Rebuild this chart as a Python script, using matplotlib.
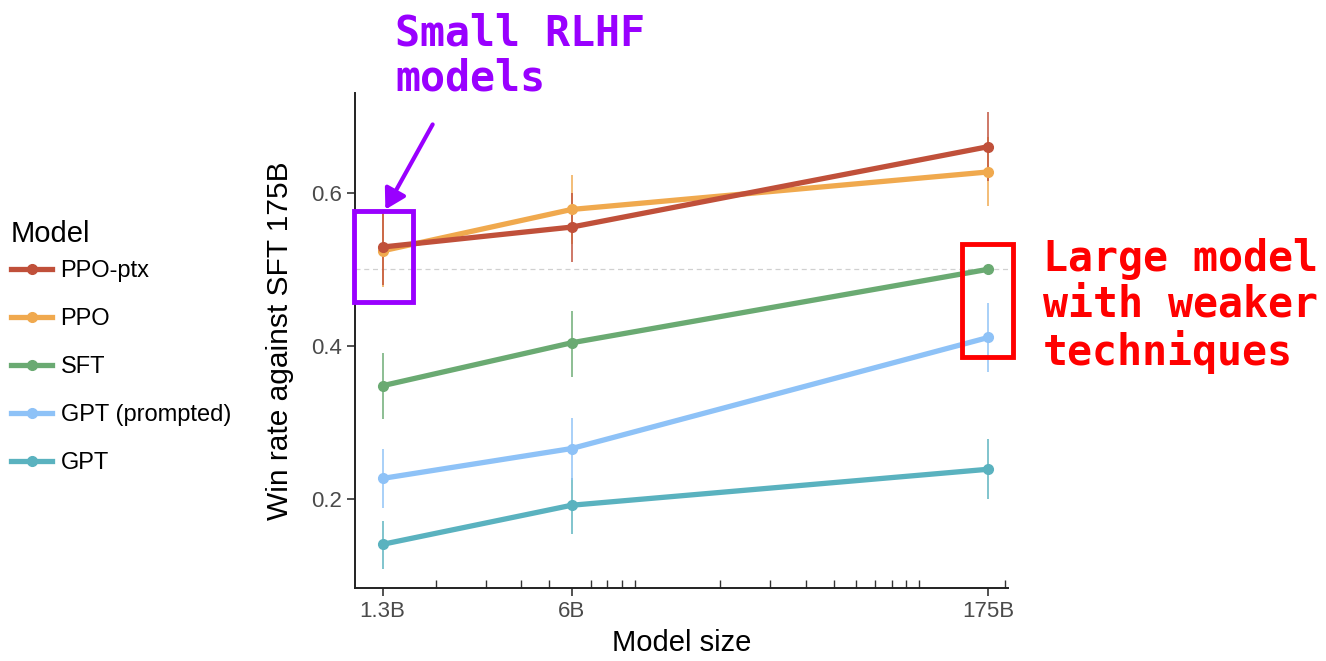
import matplotlib.pyplot as plt
from matplotlib.patches import Rectangle, FancyArrowPatch
import numpy as np

plt.rcParams['font.family'] = ['Liberation Sans', 'DejaVu Sans']

# data
sizes = [1.3, 6, 175]
size_labels = ["1.3B", "6B", "175B"]
models = ["PPO-ptx", "PPO", "SFT", "GPT (prompted)", "GPT"]
colors = ["#c0503a", "#f0a94e", "#6aaa72", "#8ec2f7", "#5ab2bf"]

ppo_ptx = [0.529, 0.555, 0.660]
ppo_ptx_lo = [0.480, 0.510, 0.615]
ppo_ptx_hi = [0.575, 0.600, 0.705]

ppo = [0.524, 0.578, 0.627]
ppo_lo = [0.477, 0.533, 0.583]
ppo_hi = [0.572, 0.623, 0.672]

sft = [0.348, 0.404, 0.500]
sft_lo = [0.305, 0.360, 0.500]
sft_hi = [0.391, 0.446, 0.500]

gpt_prompted = [0.227, 0.266, 0.411]
gpt_prompted_lo = [0.188, 0.225, 0.366]
gpt_prompted_hi = [0.266, 0.306, 0.456]

gpt = [0.141, 0.192, 0.239]
gpt_lo = [0.109, 0.155, 0.200]
gpt_hi = [0.172, 0.228, 0.278]

series = [(ppo_ptx, ppo_ptx_lo, ppo_ptx_hi), (ppo, ppo_lo, ppo_hi),
          (sft, sft_lo, sft_hi), (gpt_prompted, gpt_prompted_lo, gpt_prompted_hi),
          (gpt, gpt_lo, gpt_hi)]

W, H = 1326, 661
fig = plt.figure(figsize=(W / 100, H / 100), dpi=100)
ax = fig.add_axes([355 / W, 1 - 588 / H, (1008 - 355) / W, (588 - 93) / H])

ax.axhline(0.5, color="#d0d0d0", ls=(0, (4, 3)), lw=0.9, zorder=1)

# draw in reverse so PPO-ptx sits on top like the original
handles = []
for name, col, (v, lo, hi) in reversed(list(zip(models, colors, series))):
    v = np.array(v); lo = np.array(lo); hi = np.array(hi)
    ax.vlines(sizes, lo, hi, color=col, lw=1.2, alpha=0.9, zorder=2)
    h, = ax.plot(sizes, v, color=col, lw=3.8, marker="o", ms=7, label=name, zorder=3)
    handles.append(h)
handles = handles[::-1]

ax.set_xscale("log")
ax.set_xlim(1.04, 205)
ax.set_ylim(0.084, 0.73)
ax.set_xticks(sizes)
ax.set_xticklabels(size_labels)
minor = [2, 3, 4, 5, 6, 7, 8, 9, 10, 20, 30, 40, 50, 60, 70, 80, 90, 100, 200]
ax.set_xticks(minor, minor=True)
ax.xaxis.set_minor_formatter(plt.NullFormatter())
ax.set_yticks([0.2, 0.4, 0.6])
ax.set_yticklabels(["0.2", "0.4", "0.6"])
ax.tick_params(axis="both", which="major", direction="out", length=6, width=1.2,
               labelsize=16, labelcolor="#4a4a4a", color="#333333")
ax.tick_params(axis="x", which="minor", direction="in", length=6, width=1.0, color="#333333")
for s in ["top", "right"]:
    ax.spines[s].set_visible(False)
for s in ["left", "bottom"]:
    ax.spines[s].set_linewidth(1.4)
    ax.spines[s].set_color("#222222")

ax.set_xlabel("Model size", fontsize=21, labelpad=5)
ax.set_ylabel("Win rate against SFT 175B", fontsize=21.5)
ax.yaxis.set_label_coords(-0.093, 0.5)

leg = ax.legend(handles=handles, title="Model", loc="upper left",
                bbox_to_anchor=(11 / W, 1 - 220 / H), bbox_transform=fig.transFigure,
                frameon=False, fontsize=17, title_fontsize=21, handlelength=1.75,
                handletextpad=0.35, labelspacing=1.1, borderpad=0, borderaxespad=0)
leg._legend_box.align = "left"
leg._legend_box.sep = 9

# annotations
purple = "#9900ff"
red = "#ff0000"
mono = dict(family="DejaVu Sans Mono", fontweight="bold", fontsize=30)
fig.text(395 / W, 1 - 12 / H, "Small RLHF\nmodels", color=purple, va="top", ha="left",
         linespacing=1.12, **mono)
fig.text(1043 / W, 1 - 238 / H, "Large model\nwith weaker\ntechniques", color=red,
         va="top", ha="left", linespacing=1.12, **mono)

fig.patches.append(Rectangle((354 / W, 1 - 302 / H), 59 / W, 91 / H, fill=False,
                             ec=purple, lw=3.5, transform=fig.transFigure))
fig.patches.append(Rectangle((962 / W, 1 - 357 / H), 51 / W, 113 / H, fill=False,
                             ec=red, lw=3.5, transform=fig.transFigure))
arr = FancyArrowPatch((434 / W, 1 - 122 / H), (384 / W, 1 - 212 / H),
                      transform=fig.transFigure, arrowstyle="-|>,head_length=12,head_width=7",
                      color=purple, lw=3)
fig.patches.append(arr)

fig.savefig("out.png", dpi=100)
